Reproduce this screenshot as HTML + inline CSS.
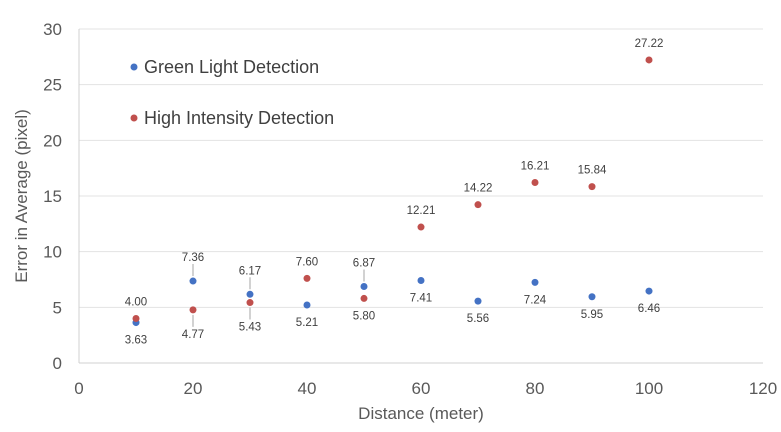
<!DOCTYPE html>
<html><head><meta charset="utf-8"><style>
body{margin:0;background:#fff}
svg text{font-family:"Liberation Sans",Calibri,sans-serif}
</style></head><body>
<svg id="chart" width="781" height="427" xmlns="http://www.w3.org/2000/svg">
<g id="grid"></g>
<g id="axes"></g>
<g id="marks"></g>
<text x="27" y="196" transform="rotate(-90 27 196)" text-anchor="middle" font-size="17" fill="#595959">Error in Average (pixel)</text>
<text x="421" y="419" text-anchor="middle" font-size="17" fill="#595959">Distance (meter)</text>
<g>
<circle cx="134" cy="67" r="3.5" fill="#4472C4"/>
<text x="144" y="73" font-size="18" fill="#404040">Green Light Detection</text>
<circle cx="134" cy="118" r="3.5" fill="#C0504D"/>
<text x="144" y="124" font-size="18" fill="#404040">High Intensity Detection</text>
</g>
</svg>
<script>
const distances=[10,20,30,40,50,60,70,80,90,100];
const greenValues=[3.63,7.36,6.17,5.21,6.87,7.41,5.56,7.24,5.95,6.46];
const redValues=[4.00,4.77,5.43,7.60,5.80,12.21,14.22,16.21,15.84,27.22];
const greenLabelSide=[1,-1,-1,1,-1,1,1,1,1,1];
const redLabelSide=[-1,1,1,-1,1,-1,-1,-1,-1,-1];
const greenLeader=[0,1,1,0,1,0,0,0,0,0];
const redLeader=[0,1,1,0,0,0,0,0,0,0];
const xTicks=[0,20,40,60,80,100,120];
const yTicks=[0,5,10,15,20,25,30];

const NS="http://www.w3.org/2000/svg";
const X0=79,X1=763,Y0=363,Y1=29;
const xs=v=>X0+(v-0)/120*(X1-X0);
const ys=v=>Y0-(v-0)/30*(Y0-Y1);
function mk(tag,attrs,parent,txt){const e=document.createElementNS(NS,tag);for(const k in attrs)e.setAttribute(k,attrs[k]);if(txt!==undefined)e.textContent=txt;parent.appendChild(e);return e;}
const grid=document.getElementById('grid'),axes=document.getElementById('axes'),marks=document.getElementById('marks');
yTicks.forEach(t=>{
  if(t>0){const l=mk('line',{x1:X0,x2:X1,y1:ys(t),y2:ys(t),stroke:'#e3e3e3','stroke-width':1},grid);
  
  }
  const tx=mk('text',{x:X0-17,y:ys(t)+6,'text-anchor':'end','font-size':17,fill:'#595959'},axes,String(t));
  
  
});
xTicks.forEach(t=>{
  const tx=mk('text',{x:xs(t),y:Y0+31,'text-anchor':'middle','font-size':17,fill:'#595959'},axes,String(t));
  
  
});
const xa=mk('line',{x1:X0,x2:X1,y1:Y0,y2:Y0,stroke:'#d0d0d0','stroke-width':1},axes);


const ya=mk('line',{x1:X0,x2:X0,y1:Y0,y2:Y1,stroke:'#d0d0d0','stroke-width':1},axes);


function series(vals,side,lead,color,name){
  vals.forEach((v,i)=>{
    const cx=xs(distances[i]),cy=ys(v);
    const off=lead[i]?24:17;
    const ly=cy+side[i]*off;
    if(lead[i]){const ln=mk('line',{x1:cx,x2:cx,y1:cy+side[i]*5,y2:ly-side[i]*7,stroke:'#a6a6a6','stroke-width':1},marks);
      
      }
    const c=mk('circle',{cx:cx,cy:cy,r:3.5,fill:color},marks);
    
    
    const t=mk('text',{x:cx,y:ly+4,'text-anchor':'middle','font-size':11.5,fill:'#404040'},marks,v.toFixed(2));
    
    
  });
}
series(greenValues,greenLabelSide,greenLeader,'#4472C4','green');
series(redValues,redLabelSide,redLeader,'#C0504D','high');
</script>
</body></html>
